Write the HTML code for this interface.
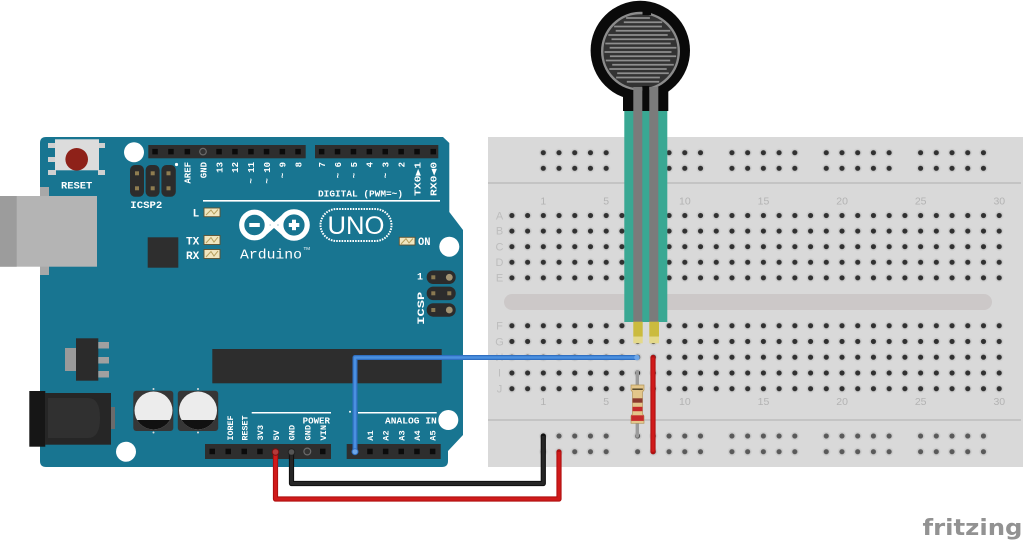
<!DOCTYPE html>
<html><head><meta charset="utf-8"><style>
html,body{margin:0;padding:0;background:#fff;}
svg{display:block}
</style></head><body>
<svg width="1024" height="546" viewBox="0 0 1024 546" xmlns="http://www.w3.org/2000/svg">
<defs>
<pattern id="pA" patternUnits="userSpaceOnUse" x="504.04" y="207.71" width="15.72" height="15.58">
 <circle cx="7.86" cy="7.79" r="4.2" fill="#cdcdcd"/><circle cx="7.86" cy="7.79" r="2.6" fill="#313131"/>
</pattern>
<pattern id="pF" patternUnits="userSpaceOnUse" x="504.04" y="317.83" width="15.72" height="15.75">
 <circle cx="7.86" cy="7.875" r="4.2" fill="#cdcdcd"/><circle cx="7.86" cy="7.875" r="2.6" fill="#313131"/>
</pattern>
<pattern id="pT" patternUnits="userSpaceOnUse" x="535.44" y="144.9" width="15.72" height="15.6">
 <circle cx="7.86" cy="7.8" r="4.2" fill="#cdcdcd"/><circle cx="7.86" cy="7.8" r="2.6" fill="#313131"/>
</pattern>
<pattern id="pB" patternUnits="userSpaceOnUse" x="535.44" y="428.15" width="15.72" height="15.7">
 <circle cx="7.86" cy="7.85" r="4.2" fill="#cdcdcd"/><circle cx="7.86" cy="7.85" r="2.6" fill="#5a5a5a"/>
</pattern>
<clipPath id="capc1"><circle cx="153.5" cy="410.5" r="19"/></clipPath>
<clipPath id="capc2"><circle cx="198" cy="410.5" r="19"/></clipPath>
</defs>

<!-- ===== BREADBOARD ===== -->
<rect x="488" y="137" width="535" height="330" fill="#d9d9d9"/>
<line x1="488" y1="183" x2="1021" y2="183" stroke="#b9b9b9" stroke-width="1.2"/>
<line x1="488" y1="420" x2="1021" y2="420" stroke="#b9b9b9" stroke-width="1.2"/>
<rect x="504" y="294" width="488" height="16" rx="8" fill="#ccc8c8"/>
<rect x="504.04" y="207.71" width="503.04" height="77.9" fill="url(#pA)"/>
<rect x="504.04" y="317.83" width="503.04" height="78.75" fill="url(#pF)"/>
<rect x="535.44" y="144.9" width="78.6" height="31.2" fill="url(#pT)"/>
<rect x="629.76" y="144.9" width="78.6" height="31.2" fill="url(#pT)"/>
<rect x="724.08" y="144.9" width="78.6" height="31.2" fill="url(#pT)"/>
<rect x="818.4" y="144.9" width="78.6" height="31.2" fill="url(#pT)"/>
<rect x="912.72" y="144.9" width="78.6" height="31.2" fill="url(#pT)"/>
<rect x="535.44" y="428.15" width="78.6" height="31.4" fill="url(#pB)"/>
<rect x="629.76" y="428.15" width="78.6" height="31.4" fill="url(#pB)"/>
<rect x="724.08" y="428.15" width="78.6" height="31.4" fill="url(#pB)"/>
<rect x="818.4" y="428.15" width="78.6" height="31.4" fill="url(#pB)"/>
<rect x="912.72" y="428.15" width="78.6" height="31.4" fill="url(#pB)"/>

<g font-family="Liberation Sans, sans-serif" font-size="10.5" fill="#b3b3b3" text-anchor="middle">
 <text x="543.3" y="204.6">1</text><text x="606.2" y="204.6">5</text><text x="684.9" y="204.6">10</text>
 <text x="763.5" y="204.6">15</text><text x="842.1" y="204.6">20</text><text x="920.7" y="204.6">25</text><text x="999.3" y="204.6">30</text>
 <text x="543.3" y="404.8">1</text><text x="606.2" y="404.8">5</text><text x="684.9" y="404.8">10</text>
 <text x="763.5" y="404.8">15</text><text x="842.1" y="404.8">20</text><text x="920.7" y="404.8">25</text><text x="999.3" y="404.8">30</text>
</g>
<g font-family="Liberation Sans, sans-serif" font-size="11" fill="#bdbdbd" text-anchor="middle">
 <text x="499.5" y="219.5">A</text><text x="499.5" y="234.5">B</text><text x="499.5" y="250.5">C</text>
 <text x="499.5" y="266">D</text><text x="499.5" y="281.6">E</text>
 <text x="499.5" y="329.6">F</text><text x="499.5" y="345.5">G</text><text x="499.5" y="361.2">H</text>
 <text x="499.5" y="376.7">I</text><text x="499.5" y="392.6">J</text>
</g>

<!-- ===== ARDUINO ===== -->
<path d="M46,137 H443 L449.3,143 V212 L463,230 V435 L448,451 V461 Q448,467 442,467 H46 Q40,467 40,461 V143 Q40,137 46,137 Z" fill="#187591"/>

<circle cx="134" cy="152.3" r="10" fill="#fff"/>
<circle cx="449.3" cy="246.7" r="10" fill="#fff"/>
<circle cx="126" cy="451.7" r="10" fill="#fff"/>
<circle cx="448.3" cy="420" r="10" fill="#fff"/>

<g fill="#d0d0d0">
 <rect x="48" y="143" width="8" height="5"/><rect x="48" y="157" width="8" height="5"/><rect x="48" y="170" width="8" height="5"/>
 <rect x="98" y="143" width="7" height="5"/><rect x="98" y="170" width="7" height="5"/>
</g>
<rect x="55" y="139.3" width="44" height="31" fill="#dcdcdc"/>
<circle cx="76.7" cy="159.3" r="11.3" fill="#8e2119"/>

<rect x="40" y="187" width="9" height="10" fill="#a8a8a8"/>
<rect x="40" y="266" width="9" height="9" fill="#a8a8a8"/>
<rect x="0" y="196" width="97" height="70.7" fill="#b4b4b4"/>
<rect x="0" y="196" width="16.7" height="70.7" fill="#9c9c9c"/>

<rect x="130" y="165" width="14" height="31.7" rx="5" fill="#2c2c2c"/>
<rect x="145.6" y="165" width="14" height="31.7" rx="5" fill="#2c2c2c"/>
<rect x="161.4" y="165" width="14.4" height="31.7" rx="5" fill="#2c2c2c"/>
<g fill="#8f7d50">
 <rect x="135" y="171.3" width="4" height="4"/><rect x="135" y="186.3" width="4" height="4"/>
 <rect x="150.7" y="171.3" width="4" height="4"/><rect x="150.7" y="186.3" width="4" height="4"/>
 <rect x="166.5" y="171.3" width="4" height="4"/><rect x="166.5" y="186.3" width="4" height="4"/>
</g>
<circle cx="176.5" cy="164.5" r="1.6" fill="#fff"/>

<rect x="148.3" y="145" width="157.4" height="13.3" fill="#2e2e2e"/>
<rect x="315" y="145" width="123.3" height="13.3" fill="#2e2e2e"/>
<g fill="#0b0b0b">
 <rect x="152.3" y="148.9" width="5.5" height="5.5"/><rect x="168.2" y="148.9" width="5.5" height="5.5"/>
 <rect x="184.6" y="148.9" width="5.5" height="5.5"/>
 <rect x="216.3" y="148.9" width="5.5" height="5.5"/><rect x="232.2" y="148.9" width="5.5" height="5.5"/>
 <rect x="248.2" y="148.9" width="5.5" height="5.5"/><rect x="263.8" y="148.9" width="5.5" height="5.5"/>
 <rect x="279.6" y="148.9" width="5.5" height="5.5"/><rect x="295.3" y="148.9" width="5.5" height="5.5"/>
 <rect x="318.9" y="148.9" width="5.5" height="5.5"/><rect x="334.8" y="148.9" width="5.5" height="5.5"/>
 <rect x="350.7" y="148.9" width="5.5" height="5.5"/><rect x="366.6" y="148.9" width="5.5" height="5.5"/>
 <rect x="382.5" y="148.9" width="5.5" height="5.5"/><rect x="398.4" y="148.9" width="5.5" height="5.5"/>
 <rect x="414.3" y="148.9" width="5.5" height="5.5"/><rect x="430.5" y="148.9" width="5.5" height="5.5"/>
</g>
<circle cx="203" cy="151.6" r="3.3" fill="#333" stroke="#6a6a6a" stroke-width="1.2"/>

<g font-family="Liberation Mono, DejaVu Sans Mono, monospace" font-weight="bold" font-size="9" fill="#fff" text-anchor="end">
 <text transform="translate(190.6,162) rotate(-90)">AREF</text>
 <text transform="translate(206.3,162) rotate(-90)">GND</text>
 <text transform="translate(222.3,162) rotate(-90)">13</text>
 <text transform="translate(238.2,162) rotate(-90)">12</text>
 <text transform="translate(254.2,162) rotate(-90)">~ 11</text>
 <text transform="translate(269.8,162) rotate(-90)">~ 10</text>
 <text transform="translate(285.6,162) rotate(-90)">~ 9</text>
 <text transform="translate(301.3,162) rotate(-90)">8</text>
 <text transform="translate(325,162) rotate(-90)">7</text>
 <text transform="translate(340.9,162) rotate(-90)">~ 6</text>
 <text transform="translate(356.8,162) rotate(-90)">~ 5</text>
 <text transform="translate(372.7,162) rotate(-90)">4</text>
 <text transform="translate(388.6,162) rotate(-90)">~ 3</text>
 <text transform="translate(404.5,162) rotate(-90)">2</text>
 <text transform="translate(420.4,162) rotate(-90)" textLength="34" lengthAdjust="spacingAndGlyphs">TX0▶1</text>
 <text transform="translate(436.6,162) rotate(-90)" textLength="34" lengthAdjust="spacingAndGlyphs">RX0◀0</text>
</g>
<text x="318" y="196.3" font-family="Liberation Mono, monospace" font-weight="bold" font-size="9.4" fill="#fff" textLength="85" lengthAdjust="spacingAndGlyphs">DIGITAL (PWM=~)</text>
<line x1="203" y1="200.8" x2="440" y2="200.8" stroke="#fff" stroke-width="1.6"/>

<g font-family="Liberation Mono, monospace" font-weight="bold" fill="#fff">
 <text x="61" y="188.6" font-size="10" textLength="31.3" lengthAdjust="spacingAndGlyphs">RESET</text>
 <text x="130.3" y="208" font-size="10.5" textLength="32" lengthAdjust="spacingAndGlyphs">ICSP2</text>
 <text x="192.6" y="216.6" font-size="11">L</text>
 <text x="186" y="244.6" font-size="11" textLength="13.3" lengthAdjust="spacingAndGlyphs">TX</text>
 <text x="186" y="259.2" font-size="11" textLength="13.3" lengthAdjust="spacingAndGlyphs">RX</text>
 <text x="418" y="245.2" font-size="11" textLength="12.5" lengthAdjust="spacingAndGlyphs">ON</text>
 <text x="420" y="279.5" font-size="10" text-anchor="middle">1</text>
 <text transform="translate(424.2,308.3) rotate(-90)" font-size="10" text-anchor="middle" textLength="33" lengthAdjust="spacingAndGlyphs">ICSP</text>
</g>

<g stroke="#5e5230" stroke-width="0.9" fill="#f0e6c0">
 <rect x="204" y="208" width="16" height="8.7"/>
 <rect x="204" y="235.5" width="16" height="9"/>
 <rect x="204" y="249.5" width="16" height="9"/>
 <rect x="399.3" y="237.3" width="15.7" height="7.7"/>
</g>
<g stroke="#b59f5e" stroke-width="1" fill="none">
 <path d="M206,215 L211,210 L214,214 L218,209.5"/>
 <path d="M206,243 L211,237.5 L214,242 L218,237"/>
 <path d="M206,257 L211,251.5 L214,256 L218,251"/>
 <path d="M401,244 L406,238.7 L409,243 L413,238.5"/>
</g>

<rect x="147.7" y="237.3" width="30.6" height="30.4" fill="#2e2e2e"/>

<g stroke="#fff" stroke-width="5.2" fill="none">
 <circle cx="254.5" cy="225" r="12.8"/>
 <circle cx="294" cy="225" r="13.2"/>
 <path d="M265,217 L283,233 M265,233 L283,217" stroke-width="4.5"/>
</g>
<rect x="249.3" y="223" width="10.5" height="4" fill="#fff"/>
<rect x="288.8" y="223" width="10.5" height="4" fill="#fff"/>
<rect x="292" y="219.7" width="4" height="10.5" fill="#fff"/>
<text x="240" y="258.4" font-family="Liberation Mono, monospace" font-size="14" fill="#fff" textLength="62" lengthAdjust="spacingAndGlyphs">Arduino</text>
<text x="303.5" y="250" font-family="Liberation Sans, sans-serif" font-size="4.5" fill="#fff">TM</text>
<rect x="320.5" y="209" width="71" height="32" rx="16" fill="none" stroke="#fff" stroke-width="2" stroke-dasharray="1.6 1.1"/>
<text x="327.5" y="234" font-family="Liberation Sans, sans-serif" font-size="25" fill="#fff" textLength="57" lengthAdjust="spacingAndGlyphs">UNO</text>

<rect x="426.7" y="270.5" width="29" height="13.5" rx="6.5" fill="#2c2c2c"/>
<rect x="426.7" y="286.6" width="29" height="13.5" rx="6.5" fill="#2c2c2c"/>
<rect x="426.7" y="303.2" width="29" height="13.5" rx="6.5" fill="#2c2c2c"/>
<g fill="#8a7a52">
 <rect x="431.3" y="275.3" width="4" height="4"/><rect x="431.3" y="291.3" width="4" height="4"/><rect x="431.3" y="308" width="4" height="4"/>
 <rect x="447.3" y="291.3" width="4" height="4"/>
</g>
<circle cx="449.3" cy="277.3" r="3.4" fill="#a39473"/><circle cx="449.3" cy="310" r="3.4" fill="#a39473"/>

<rect x="65" y="348" width="11" height="23" fill="#9a9a9a"/>
<rect x="76" y="338.3" width="22.3" height="42.4" fill="#2b2b2b"/>
<g fill="#a0a0a0"><rect x="98.3" y="342" width="10.7" height="6.5"/><rect x="98.3" y="357" width="10.7" height="6.5"/><rect x="98.3" y="371" width="10.7" height="6.5"/></g>

<rect x="29.3" y="391" width="16" height="55.7" fill="#161616"/>
<rect x="45" y="393" width="66" height="51.7" fill="#262626"/>
<path d="M48,398 H88 Q100,398 100,418 Q100,438 88,438 H48 Z" fill="#303030"/>
<rect x="111" y="407" width="4" height="22" fill="#6b6b6b"/>

<rect x="133.3" y="390.7" width="40" height="40.3" rx="3" fill="#363636"/>
<rect x="177.8" y="390.7" width="40.4" height="40.3" rx="3" fill="#363636"/>
<circle cx="153.5" cy="410.5" r="19" fill="#ececec"/>
<circle cx="198" cy="410.5" r="19" fill="#ececec"/>
<rect x="130" y="420" width="50" height="15" fill="#111" clip-path="url(#capc1)"/>
<rect x="175" y="420" width="50" height="15" fill="#111" clip-path="url(#capc2)"/>
<g fill="#ddd"><circle cx="153.5" cy="389" r="1"/><circle cx="153.5" cy="432.5" r="1"/><circle cx="198" cy="389" r="1"/><circle cx="198" cy="432.5" r="1"/></g>

<rect x="212.3" y="349" width="229.4" height="34.3" fill="#2d2d2d"/>

<rect x="205" y="444" width="126" height="15" fill="#2e2e2e"/>
<rect x="346.7" y="444" width="94" height="15" fill="#2e2e2e"/>
<g fill="#0b0b0b">
 <rect x="209.5" y="448.7" width="5.5" height="5.5"/><rect x="225.5" y="448.7" width="5.5" height="5.5"/>
 <rect x="241.5" y="448.7" width="5.5" height="5.5"/><rect x="257.2" y="448.7" width="5.5" height="5.5"/>
 <rect x="320" y="448.7" width="5.5" height="5.5"/>
 <rect x="367.2" y="448.7" width="5.5" height="5.5"/><rect x="382.9" y="448.7" width="5.5" height="5.5"/>
 <rect x="398.5" y="448.7" width="5.5" height="5.5"/><rect x="414.2" y="448.7" width="5.5" height="5.5"/>
 <rect x="429.9" y="448.7" width="5.5" height="5.5"/>
</g>
<circle cx="307.3" cy="451.5" r="3.4" fill="#333" stroke="#6a6a6a" stroke-width="1.2"/>

<g font-family="Liberation Mono, monospace" font-weight="bold" font-size="8.6" fill="#fff" text-anchor="start">
 <text transform="translate(232.8,440.5) rotate(-90)" textLength="25" lengthAdjust="spacingAndGlyphs">IOREF</text>
 <text transform="translate(247.3,440.5) rotate(-90)" textLength="25" lengthAdjust="spacingAndGlyphs">RESET</text>
 <text transform="translate(263,440.5) rotate(-90)">3V3</text>
 <text transform="translate(279,440.5) rotate(-90)">5V</text>
 <text transform="translate(294.5,440.5) rotate(-90)">GND</text>
 <text transform="translate(310.3,440.5) rotate(-90)">GND</text>
 <text transform="translate(325.8,440.5) rotate(-90)">VIN</text>
 <text transform="translate(373,440.7) rotate(-90)">A1</text>
 <text transform="translate(388.7,440.7) rotate(-90)">A2</text>
 <text transform="translate(404.3,440.7) rotate(-90)">A3</text>
 <text transform="translate(420,440.7) rotate(-90)">A4</text>
 <text transform="translate(435.7,440.7) rotate(-90)">A5</text>
</g>
<g font-family="Liberation Mono, monospace" font-weight="bold" font-size="9" fill="#fff">
 <text x="302.7" y="423.3" textLength="27.3" lengthAdjust="spacingAndGlyphs">POWER</text>
 <text x="385" y="423.3" textLength="51.7" lengthAdjust="spacingAndGlyphs">ANALOG IN</text>
</g>
<line x1="251.7" y1="412.8" x2="331" y2="412.8" stroke="#fff" stroke-width="1.5"/>
<line x1="358" y1="412.8" x2="436.7" y2="412.8" stroke="#fff" stroke-width="1.5"/>
<circle cx="350" cy="411.8" r="1" fill="#fff"/>

<!-- ===== FSR SENSOR ===== -->
<rect x="624.3" y="110" width="43" height="212" fill="#39a893"/>
<rect x="623" y="84" width="45.3" height="27" fill="#0a0a0a"/>
<circle cx="640.3" cy="50.5" r="49.7" fill="#0a0a0a"/>
<circle cx="640.5" cy="51.3" r="38.3" fill="#333" stroke="#8c8c8c" stroke-width="2.4"/>
<g stroke="#8e8e8e" stroke-width="1.8">
 <line x1="626.1" y1="18" x2="649.9" y2="18"/>
 <line x1="623.8" y1="22.25" x2="662.2" y2="22.25"/>
 <line x1="614.1" y1="26.5" x2="661.9" y2="26.5"/>
 <line x1="615.7" y1="30.75" x2="670.3" y2="30.75"/>
 <line x1="608.3" y1="35" x2="667.7" y2="35"/>
 <line x1="611.5" y1="39.25" x2="674.5" y2="39.25"/>
 <line x1="605.3" y1="43.5" x2="670.7" y2="43.5"/>
 <line x1="609.6" y1="47.75" x2="676.4" y2="47.75"/>
 <line x1="604.5" y1="52" x2="671.5" y2="52"/>
 <line x1="609.9" y1="56.25" x2="676.1" y2="56.25"/>
 <line x1="605.8" y1="60.5" x2="670.2" y2="60.5"/>
 <line x1="612.2" y1="64.75" x2="673.8" y2="64.75"/>
 <line x1="609.3" y1="69" x2="666.7" y2="69"/>
 <line x1="617.2" y1="73.25" x2="668.8" y2="73.25"/>
 <line x1="616.1" y1="77.5" x2="659.9" y2="77.5"/>
 <line x1="626.8" y1="81.75" x2="659.2" y2="81.75"/>
</g>
<rect x="642.5" y="9" width="8.5" height="6" fill="#0a0a0a"/>
<rect x="642.3" y="86" width="7" height="24" fill="#0a0a0a"/>
<rect x="633.3" y="87" width="9" height="235" fill="#7b7b7b"/>
<rect x="649.3" y="87" width="9" height="235" fill="#7b7b7b"/>
<rect x="633.3" y="321.7" width="9.4" height="15" fill="#cbbb3e"/>
<rect x="649.3" y="321.7" width="9.7" height="15" fill="#cbbb3e"/>
<rect x="633.3" y="336.7" width="9.4" height="6.6" fill="#e4d98a"/>
<rect x="649.3" y="336.7" width="9.7" height="6.6" fill="#e4d98a"/>

<!-- ===== RESISTOR ===== -->
<line x1="637.3" y1="371.7" x2="637.3" y2="436" stroke="#9b9b9b" stroke-width="3.4" stroke-linecap="round"/>
<path d="M631,385 H644 V390 L642.5,392 V414 L644,416 V423.3 H631 V416 L632.5,414 V392 L631,390 Z" fill="#e3c68a" stroke="#b3955a" stroke-width="0.7"/>
<rect x="632.3" y="388.5" width="10.5" height="1.4" fill="#4a3c22"/>
<rect x="632.5" y="398.3" width="10" height="4.4" fill="#8c3a2e"/>
<rect x="632.5" y="406.8" width="10" height="4.4" fill="#c52b2b"/>
<rect x="631.2" y="415.3" width="12.6" height="5.6" fill="#c62b2b"/>

<!-- ===== WIRES ===== -->
<path d="M355,452 V357.5 H637" fill="none" stroke="#2f6fc2" stroke-width="5" stroke-linejoin="round" stroke-linecap="round"/>
<path d="M355,452 V357.5 H637" fill="none" stroke="#4b90e0" stroke-width="2.6" stroke-linejoin="round"/>
<circle cx="355" cy="451.7" r="3" fill="#6da6e8" stroke="#2f6fc2" stroke-width="1"/>
<circle cx="637" cy="357.5" r="2.8" fill="#6da6e8"/>

<path d="M275.5,452 V499 H559 V452" fill="none" stroke="#b01010" stroke-width="5.2" stroke-linejoin="round" stroke-linecap="round"/>
<path d="M275.5,452 V499 H559 V452" fill="none" stroke="#d01a1a" stroke-width="3" stroke-linejoin="round"/>
<circle cx="275.5" cy="452" r="3.3" fill="#b43a3a" stroke="#7a1010" stroke-width="1"/>

<path d="M291.5,452 V483.5 H543.3 V436" fill="none" stroke="#111" stroke-width="5.2" stroke-linejoin="round" stroke-linecap="round"/>
<path d="M291.5,452 V483.5 H543.3 V436" fill="none" stroke="#262626" stroke-width="3" stroke-linejoin="round"/>
<circle cx="291.5" cy="452" r="3.3" fill="#555" stroke="#222" stroke-width="1"/>

<line x1="653" y1="357.5" x2="653" y2="451.7" stroke="#b01010" stroke-width="5.2" stroke-linecap="round"/>
<line x1="653" y1="357.5" x2="653" y2="451.7" stroke="#d01a1a" stroke-width="3"/>

<!-- fritzing logo -->
<text x="922.5" y="535" font-family="DejaVu Sans, Liberation Sans, sans-serif" font-size="22" font-weight="bold" fill="#929292" textLength="100" lengthAdjust="spacingAndGlyphs">fritzing</text>
</svg>
</body></html>
